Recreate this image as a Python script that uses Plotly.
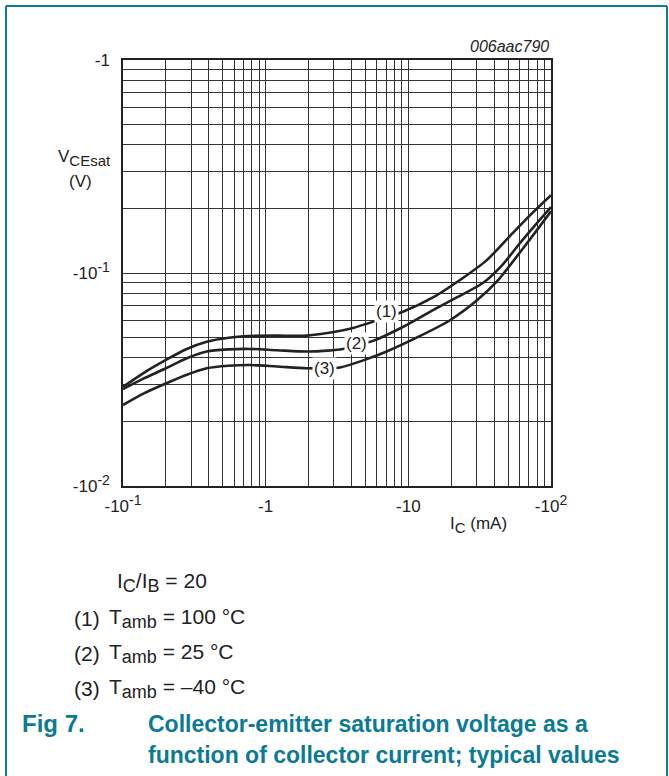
import math
import plotly.graph_objects as go

# Collector current magnitude (mA) and V_CEsat magnitude (V); real values are negative (PNP)
ic_1 = [0.1, 0.14, 0.2, 0.28, 0.386, 0.55, 0.776, 1.2, 1.94, 3.0, 4.09, 6.0, 9.16, 15, 23, 35, 51.5, 72, 100]
vce_1 = [0.0292, 0.0340, 0.0391, 0.0440, 0.0476, 0.0497, 0.0506, 0.0508, 0.0508, 0.0528, 0.0552,
         0.0598, 0.0658, 0.0770, 0.0927, 0.114, 0.149, 0.188, 0.232]

ic_2 = [0.1, 0.14, 0.2, 0.28, 0.386, 0.55, 0.776, 1.2, 1.94, 2.7, 3.48, 5.65, 9, 14.9, 22, 33.3, 45, 60.5, 80, 100]
vce_2 = [0.0285, 0.0320, 0.0357, 0.0398, 0.0428, 0.0438, 0.0440, 0.0434, 0.0428, 0.0432, 0.0440,
         0.048, 0.0555, 0.067, 0.077, 0.0897, 0.108, 0.138, 0.172, 0.204]

ic_3 = [0.1, 0.14, 0.2, 0.28, 0.386, 0.55, 0.776, 1.2, 1.94, 2.6, 3.32, 5, 7.05, 12, 19.6, 30, 41.6, 65.6, 100]
vce_3 = [0.024, 0.0272, 0.0303, 0.0333, 0.0357, 0.0367, 0.037, 0.0364, 0.0357, 0.0357, 0.0360,
         0.0392, 0.0428, 0.0505, 0.060, 0.074, 0.091, 0.134, 0.195]

curve_labels = ["(1)", "(2)", "(3)"]
label_ic = [7.08, 4.36, 2.60]
label_vce = [0.0663, 0.0469, 0.0358]

SUP = '<sup><span style="font-size:14px">{}</span></sup>'
x_major = [0.1, 1, 10, 100]
x_major_text = ["-10" + SUP.format("-1"), "-1", "-10", "-10" + SUP.format("2")]
y_major = [0.01, 0.1, 1]
y_major_text = ["-10" + SUP.format("-2"), "-10" + SUP.format("-1"), "-1"]

TEAL = "#0B7A93"
FONT = "Liberation Sans, Arial, sans-serif"


def grid_vals(decades):
    vals = []
    for d in decades:
        for m in range(1, 10):
            vals.append(round(m * d, 6))
    return vals


x_vals = grid_vals([0.1, 1, 10]) + [100]
x_text = [x_major_text[x_major.index(v)] if v in x_major else "" for v in x_vals]
y_vals = grid_vals([0.01, 0.1]) + [1]
y_text = [y_major_text[y_major.index(v)] if v in y_major else "" for v in y_vals]

fig = go.Figure()
for xs, ys in [(ic_1, vce_1), (ic_2, vce_2), (ic_3, vce_3)]:
    fig.add_trace(go.Scatter(x=xs, y=ys, mode="lines",
                             line=dict(color="#222222", width=2.6, shape="spline", smoothing=0.8),
                             showlegend=False, hoverinfo="skip"))

# annotations on log axes are positioned in log10 units
for t, xv, yv in zip(curve_labels, label_ic, label_vce):
    fig.add_annotation(x=math.log10(xv), y=math.log10(yv), xref="x", yref="y", text=t, showarrow=False,
                       font=dict(family=FONT, size=17, color="#222222"),
                       bgcolor="white", borderpad=1)

axis_common = dict(type="log", tickmode="array", showgrid=True, gridcolor="#333333", gridwidth=1,
                   zeroline=False, showline=True, linecolor="#222222", linewidth=1.5, mirror=True,
                   ticks="", tickfont=dict(family=FONT, size=17, color="#222222"))
fig.update_xaxes(range=[-1, 2], tickvals=x_vals, ticktext=x_text, ticklabelstandoff=4, **axis_common)
fig.update_yaxes(range=[-2, 0], tickvals=y_vals, ticktext=y_text, ticklabelstandoff=8, **axis_common)

W, H = 669, 776
L, R, T, B = 123, 551, 60, 486
pw, ph = R - L, B - T


def px(x):
    return (x - L) / pw


def py(y):
    return (B - y) / ph


# Outer teal frame
fig.add_shape(type="line", xref="paper", yref="paper", x0=px(6), x1=px(6), y0=py(6), y1=py(800),
              line=dict(color=TEAL, width=2))
fig.add_shape(type="line", xref="paper", yref="paper", x0=px(667), x1=px(667), y0=py(6), y1=py(800),
              line=dict(color=TEAL, width=2))
fig.add_shape(type="line", xref="paper", yref="paper", x0=px(6), x1=px(667), y0=py(6), y1=py(6),
              line=dict(color=TEAL, width=2))


def sub(text, size):
    return '<sub><span style="font-size:%dpx">%s</span></sub>' % (size, text)


def note(x, y, text, size=16, color="#222222", xanchor="left", bold=False, italic=False):
    if bold:
        text = "<b>" + text + "</b>"
    if italic:
        text = "<i>" + text + "</i>"
    fig.add_annotation(x=px(x), y=py(y), xref="paper", yref="paper", text=text, showarrow=False,
                       xanchor=xanchor, yanchor="middle",
                       font=dict(family=FONT, size=size, color=color))


note(551, 47, "006aac790", size=16, xanchor="right", italic=True)
note(84, 158, "V" + sub("CEsat", 15), size=17, xanchor="center")
note(80, 181, "(V)", size=17, xanchor="center")
note(478, 525, "I" + sub("C", 15) + " (mA)", size=17, xanchor="center")

note(115, 582, "I" + sub("C", 18) + "/I" + sub("B", 18) + " = 20", size=21)
note(72, 618, "(1)", size=21)
note(107, 618, "T" + sub("amb", 18) + " = 100 °C", size=21)
note(72, 653, "(2)", size=21)
note(107, 653, "T" + sub("amb", 18) + " = 25 °C", size=21)
note(72, 688, "(3)", size=21)
note(107, 688, "T" + sub("amb", 18) + " = \u201340 °C", size=21)

note(20, 724, "Fig 7.", size=24, color=TEAL, bold=True)
note(146, 724, "Collector-emitter saturation voltage as a", size=23, color=TEAL, bold=True)
note(146, 755, "function of collector current; typical values", size=23, color=TEAL, bold=True)

fig.update_layout(width=W, height=H, margin=dict(l=L, r=W - R, t=T, b=H - B),
                  paper_bgcolor="white", plot_bgcolor="white", showlegend=False,
                  font=dict(family=FONT, color="#222222"))

fig.write_html("out.html", config={"displayModeBar": False},
               post_script="document.body.style.margin='0px';document.body.style.overflow='hidden';")
